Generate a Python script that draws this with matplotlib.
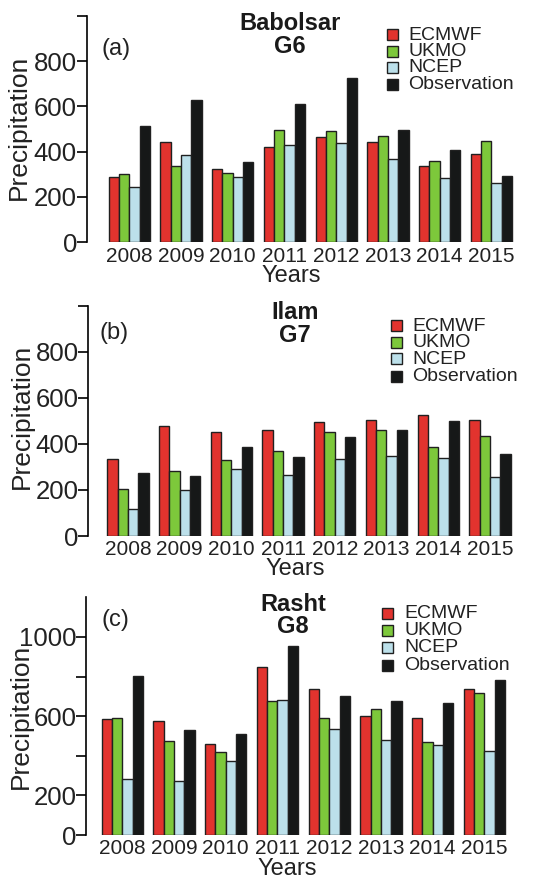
import numpy as np
import matplotlib
matplotlib.use("Agg")
import matplotlib.pyplot as plt
from matplotlib.patches import Rectangle

plt.rcParams['font.family'] = ['Liberation Sans', 'DejaVu Sans']

years = ['2008', '2009', '2010', '2011', '2012', '2013', '2014', '2015']
models = ['ECMWF', 'UKMO', 'NCEP', 'Observation']
colors = ['#E2332E', '#7DC83B', '#BCE0EA', '#161818']

# (a) Babolsar G6
bab_ecmwf = [288, 444, 323, 422, 465, 443, 335, 390]
bab_ukmo = [301, 335, 304, 494, 489, 471, 360, 449]
bab_ncep = [242, 384, 288, 428, 438, 366, 283, 261]
bab_obs = [514, 627, 354, 610, 726, 494, 407, 291]

# (b) Ilam G7
ilam_ecmwf = [335, 478, 453, 459, 497, 505, 524, 505]
ilam_ukmo = [203, 282, 331, 370, 450, 460, 385, 433]
ilam_ncep = [118, 200, 290, 263, 335, 346, 338, 258]
ilam_obs = [273, 261, 388, 343, 431, 459, 498, 357]

# (c) Rasht G8
rasht_ecmwf = [588, 575, 461, 849, 736, 602, 592, 739]
rasht_ukmo = [592, 474, 417, 676, 593, 635, 467, 719]
rasht_ncep = [284, 271, 375, 681, 534, 482, 452, 424]
rasht_obs = [802, 529, 508, 955, 704, 679, 664, 782]

W, H = 540, 880
fig = plt.figure(figsize=(W / 100, H / 100), dpi=100)

panels = [
    dict(data=[bab_ecmwf, bab_ukmo, bab_ncep, bab_obs], tag='(a)', title='Babolsar\nG6',
         ax_x=86.7, bar0=108.7, y0=242.3, ytop=15.7, ymax=1000,
         yticks=[0, 200, 400, 600, 800, 1000], ylabels=['0', '200', '400', '600', '800', ''],
         tag_xy=(115.7, 49), title_xy=(290, 35), leg_sq=387, leg_tx=408, leg_y=[35, 51.7, 67.7, 84.3],
         xl_y=256.7, years_xy=(291.7, 276), prec_xy=(19.3, 127.7)),
    dict(data=[ilam_ecmwf, ilam_ukmo, ilam_ncep, ilam_obs], tag='(b)', title='Ilam\nG7',
         ax_x=88.3, bar0=107.3, y0=536, ytop=305.7, ymax=1000,
         yticks=[0, 200, 400, 600, 800, 1000], ylabels=['0', '200', '400', '600', '800', ''],
         tag_xy=(114, 333), title_xy=(295, 324), leg_sq=390.7, leg_tx=412, leg_y=[326, 342.7, 359, 376.7],
         xl_y=549.3, years_xy=(295.7, 569.3), prec_xy=(21.7, 416)),
    dict(data=[rasht_ecmwf, rasht_ukmo, rasht_ncep, rasht_obs], tag='(c)', title='Rasht\nG8',
         ax_x=86, bar0=101.7, y0=835, ytop=597.3, ymax=1200,
         yticks=[0, 200, 400, 600, 800, 1000], ylabels=['0', '200', '', '600', '', '1000'],
         tag_xy=(115, 620), title_xy=(293, 615.5), leg_sq=382, leg_tx=404, leg_y=[613.3, 630, 647.7, 665],
         xl_y=848.3, years_xy=(287, 868.7), prec_xy=(20.7, 716.7)),
]

unit = 10.34  # px per bar width
ngroup = len(years)
for p in panels:
    left_u = (p['ax_x'] - p['bar0']) / unit
    right_px = 535
    right_u = (right_px - p['bar0']) / unit
    ax = fig.add_axes([p['ax_x'] / W, 1 - p['y0'] / H,
                       (right_px - p['ax_x']) / W, (p['y0'] - p['ytop']) / H])
    ax.set_xlim(left_u, right_u)
    ax.set_ylim(0, p['ymax'])
    for j, vals in enumerate(p['data']):
        xs = np.arange(ngroup) * 5 + j
        ax.bar(xs, vals, width=1, align='edge', color=colors[j],
               edgecolor='#202020', linewidth=1.0, zorder=2)
    for s in ['top', 'right', 'bottom']:
        ax.spines[s].set_visible(False)
    ax.spines['left'].set_bounds(0, p['ymax'] if p['ymax'] == 1200 else p['yticks'][-1])
    ax.spines['left'].set_linewidth(1.2)
    ax.set_yticks(p['yticks'])
    ax.set_yticklabels(p['ylabels'], fontsize=18.5, color='#222222')
    ax.tick_params(axis='y', length=7, width=1.2, pad=0)
    ax.set_xticks([])

    # year labels under groups
    centers = np.arange(ngroup) * 5 + 2
    for c, yr in zip(centers, years):
        xpx = p['bar0'] + c * unit
        fig.text(xpx / W, 1 - p['xl_y'] / H, yr, ha='center', va='center',
                 fontsize=15, color='#222222')

    fig.text(p['years_xy'][0] / W, 1 - p['years_xy'][1] / H, 'Years', ha='center',
             va='center', fontsize=17, color='#222222')
    fig.text(p['prec_xy'][0] / W, 1 - p['prec_xy'][1] / H, 'Precipitation', ha='center',
             va='center', rotation=90, fontsize=19, color='#222222')
    fig.text(p['tag_xy'][0] / W, 1 - p['tag_xy'][1] / H, p['tag'], ha='center',
             va='center', fontsize=17, color='#222222')
    fig.text(p['title_xy'][0] / W, 1 - p['title_xy'][1] / H, p['title'], ha='center',
             va='center', fontsize=17, fontweight='bold', color='#1a1a1a',
             linespacing=0.95)

    # legend
    sq = 11
    for j, name in enumerate(models):
        yc = p['leg_y'][j]
        fig.patches.append(Rectangle((p['leg_sq'] / W, 1 - (yc + sq / 2) / H), sq / W, sq / H,
                                     transform=fig.transFigure, facecolor=colors[j],
                                     edgecolor='#202020', linewidth=1.0))
        fig.text(p['leg_tx'] / W, 1 - yc / H, name, ha='left', va='center',
                 fontsize=14, color='#222222')

fig.savefig('out.png', dpi=100)
